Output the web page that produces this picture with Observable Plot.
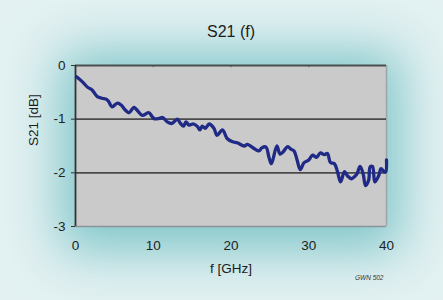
<!DOCTYPE html>
<html>
<head>
<meta charset="utf-8">
<script src="https://cdn.jsdelivr.net/npm/d3@7"></script>
<script src="https://cdn.jsdelivr.net/npm/@observablehq/plot@0.6"></script>
<style>
  html, body { margin: 0; padding: 0; }
  body { width: 443px; height: 300px; overflow: hidden; background: #e3f1f2; font-family: "Liberation Sans", Arial, sans-serif; }
  #wrap { position: relative; width: 443px; height: 300px; overflow: hidden; }
  #glow { position: absolute; left: 82px; top: 68px; width: 297px; height: 155px;
          box-shadow: 0 6px 48px 22px rgba(120, 194, 198, 0.92); background: rgba(120, 194, 198, 0.92); }
  #chart { position: absolute; left: 0; top: 0; }
  #chart svg { background: transparent; }
</style>
</head>
<body>
<div id="wrap"><div id="glow"></div><div id="chart"></div></div>
<script>
const freq = [0.13,0.86,1.6,2.1,2.8,3.4,4.0,4.3,4.7,5.4,5.9,6.4,6.9,7.5,7.9,8.6,9.4,10.1,10.7,11.2,11.8,12.4,13.1,13.5,13.9,14.2,14.6,15.2,15.7,16.0,16.3,16.7,17.2,17.8,18.2,18.9,19.5,20.2,20.8,21.7,22.1,23.0,23.6,24.0,24.5,24.9,25.2,25.9,26.3,26.7,27.3,27.7,28.1,28.5,28.9,29.4,30.0,30.5,31.0,31.5,32.0,32.4,32.8,33.3,33.7,34.1,34.6,35.0,35.5,35.9,36.2,36.6,37.0,37.3,37.7,37.9,38.2,38.5,39.0,39.3,39.7,39.9,40.0];
const s21  = [-0.21,-0.30,-0.41,-0.45,-0.58,-0.61,-0.63,-0.68,-0.77,-0.70,-0.74,-0.83,-0.88,-0.78,-0.83,-0.93,-0.88,-0.99,-0.99,-0.97,-1.05,-1.08,-1.00,-1.08,-1.13,-1.05,-1.11,-1.09,-1.14,-1.20,-1.13,-1.17,-1.09,-1.17,-1.30,-1.20,-1.36,-1.42,-1.44,-1.50,-1.47,-1.55,-1.59,-1.53,-1.52,-1.72,-1.83,-1.50,-1.65,-1.61,-1.51,-1.56,-1.59,-1.76,-1.94,-1.81,-1.76,-1.67,-1.71,-1.63,-1.66,-1.64,-1.81,-1.83,-1.98,-2.17,-1.98,-2.06,-2.11,-2.07,-2.02,-1.88,-2.02,-2.24,-2.14,-1.89,-1.88,-2.17,-2.05,-1.92,-1.98,-1.98,-1.76];
const xTicks = [0, 10, 20, 30, 40];
const yTicks = [0, -1, -2, -3];
const gridY = [-1, -2];
const topTicks = [10, 20, 30];

const data = freq.map((f, i) => ({f, v: s21[i]}));

const chart = Plot.plot({
  width: 443,
  height: 300,
  marginLeft: 75,
  marginRight: 57,
  marginTop: 65,
  marginBottom: 74,
  style: {fontFamily: "'Liberation Sans', Arial, sans-serif", background: "transparent", overflow: "visible"},
  x: {domain: [0, 40]},
  y: {domain: [-3, 0]},
  marks: [
    Plot.frame({fill: "#cacaca", stroke: null}),
    Plot.ruleX([40], {stroke: "#9aa6a8", strokeWidth: 1.5}),
    Plot.ruleY([-3], {stroke: "#8a9496", strokeWidth: 1.5}),
    Plot.ruleY(gridY, {stroke: "#4a4a4a", strokeWidth: 1.6}),
    Plot.ruleY([0], {stroke: "#4a5050", strokeWidth: 1.8}),
    Plot.ruleX(topTicks, {y1: 0, y2: -0.04, stroke: "#4a5050", strokeWidth: 1}),
    Plot.ruleX([0], {stroke: "#333", strokeWidth: 1.8}),
    Plot.axisY({ticks: yTicks, tickSize: 4, tickPadding: 6, fontSize: 13.5, stroke: "#333", label: null, tickFormat: d => d === 0 ? "0" : String(d).replace("−", "-"), color: "#222"}),
    Plot.axisX({ticks: xTicks, tickSize: 0, tickPadding: 14, fontSize: 13.5, label: null, color: "#222"}),
    Plot.line(data, {x: "f", y: "v", stroke: "#1f2a86", strokeWidth: 3.3, strokeLinejoin: "round", curve: "catmull-rom"}),
    Plot.text(["S21 (f)"], {frameAnchor: "top", dy: -40, fontSize: 16, fill: "#1c1c1c"}),
    Plot.text(["f [GHz]"], {frameAnchor: "bottom", dy: 46, fontSize: 13.5, fill: "#1c1c1c"}),
    Plot.text(["S21 [dB]"], {frameAnchor: "left", dx: -42, rotate: -90, fontSize: 13.5, fill: "#1c1c1c"}),
    Plot.text(["GWN 502"], {frameAnchor: "bottom-right", dx: -3, dy: 53, fontSize: 6.5, fontStyle: "italic", fill: "#333", textAnchor: "end"})
  ]
});
document.getElementById("chart").appendChild(chart);
</script>
</body>
</html>
